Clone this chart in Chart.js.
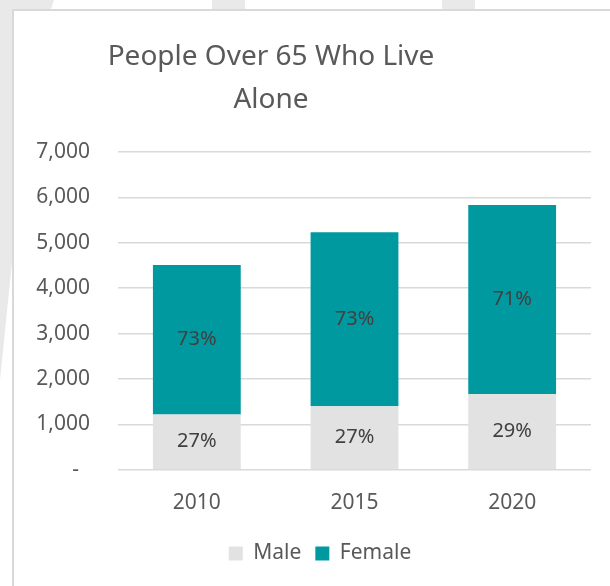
<!DOCTYPE html>
<html>
<head>
<meta charset="utf-8">
<script src="https://cdn.jsdelivr.net/npm/chart.js@4/dist/chart.umd.min.js"></script>
<style>
  html, body { margin: 0; padding: 0; background: #fff; overflow: hidden; }
  body { width: 610px; height: 586px; position: relative; }
  .wm { position: absolute; background: #e9e9e9; }
  #box {
    position: absolute; left: 12px; top: 9px;
    width: 612px; height: 590px;
    border: 2px solid #d9d9d9; background: #fff;
  }
</style>
</head>
<body>
<!-- faint watermark showing round the chart frame -->
<div class="wm" style="left:0;top:0;width:54px;height:10px;clip-path:polygon(0 0,100% 0,94% 100%,0 100%)"></div>
<div class="wm" style="left:212px;top:0;width:33px;height:10px"></div>
<div class="wm" style="left:442px;top:0;width:33px;height:10px"></div>
<div class="wm" style="left:0;top:0;width:12px;height:380px;clip-path:polygon(0 0,100% 0,100% 69%,0 100%)"></div>
<div id="box"><canvas id="livingAloneChart"></canvas></div>
<script>
// data
const years = ['2010', '2015', '2020'];
const maleCounts = [1220, 1400, 1670];
const femaleCounts = [3290, 3830, 4160];
const titleLines = ['People Over 65 Who Live', 'Alone'];

const FONT = '"Noto Sans", "Open Sans", sans-serif';
const GREY_TEXT = '#595959';

// Excel-style title, centred a bit left of the plot
const offsetTitle = {
    id: 'offsetTitle',
    afterDraw(chart) {
        const ctx = chart.ctx;
        ctx.save();
        ctx.font = '28px ' + FONT;
        ctx.fillStyle = GREY_TEXT;
        ctx.textAlign = 'center';
        ctx.textBaseline = 'alphabetic';
        titleLines.forEach((line, i) => ctx.fillText(line, 257, 54 + i * 43));
        ctx.restore();
    }
};

// percentage of the yearly total, written in the middle of each segment
const shareLabels = {
    id: 'shareLabels',
    afterDatasetsDraw(chart) {
        const ctx = chart.ctx;
        ctx.save();
        ctx.font = '20px ' + FONT;
        ctx.fillStyle = '#404040';
        ctx.textAlign = 'center';
        ctx.textBaseline = 'middle';
        chart.data.datasets.forEach((ds, di) => {
            chart.getDatasetMeta(di).data.forEach((bar, i) => {
                const total = maleCounts[i] + femaleCounts[i];
                const pct = Math.round(ds.data[i] / total * 100) + '%';
                ctx.fillText(pct, bar.x, (bar.y + bar.base) / 2);
            });
        });
        ctx.restore();
    }
};

// legend sits a little right of the canvas centre in the original
const nudgeLegend = {
    id: 'nudgeLegend',
    afterLayout(chart) {
        chart.legend.left += 7;
        chart.legend.right += 7;
    }
};

const ctx = document.getElementById('livingAloneChart').getContext('2d');
const livingAloneChart = new Chart(ctx, {
    type: 'bar',
    data: {
        labels: years,
        datasets: [{
            label: 'Male',
            data: maleCounts,
            backgroundColor: '#e2e2e2',
            categoryPercentage: 1,
            barPercentage: 0.557
        }, {
            label: 'Female',
            data: femaleCounts,
            backgroundColor: '#0099a0',
            categoryPercentage: 1,
            barPercentage: 0.557
        }]
    },
    options: {
        responsive: true,
        maintainAspectRatio: false,
        animation: false,
        layout: {
            padding: { left: 21, right: 35, top: 141, bottom: 27 }
        },
        plugins: {
            title: { display: false },
            tooltip: { enabled: false },
            legend: {
                display: true,
                position: 'bottom',
                labels: {
                    boxWidth: 14,
                    boxHeight: 14,
                    padding: 14,
                    color: GREY_TEXT,
                    font: { family: FONT, size: 21 }
                }
            }
        },
        scales: {
            x: {
                stacked: true,
                grid: { display: false },
                border: { display: false },
                ticks: {
                    padding: 13,
                    color: GREY_TEXT,
                    font: { family: FONT, size: 21 }
                }
            },
            y: {
                stacked: true,
                min: 0,
                max: 7000,
                border: { display: false },
                grid: { color: '#d9d9d9', lineWidth: 1.5, drawTicks: false },
                ticks: {
                    stepSize: 1000,
                    padding: 28,
                    color: GREY_TEXT,
                    font: { family: FONT, size: 21 },
                    callback: v => v === 0 ? '-  ' : v.toLocaleString('en-US')
                },
                afterFit(scale) { scale.width = 83; }
            }
        }
    },
    plugins: [offsetTitle, shareLabels, nudgeLegend]
});
</script>
</body>
</html>
